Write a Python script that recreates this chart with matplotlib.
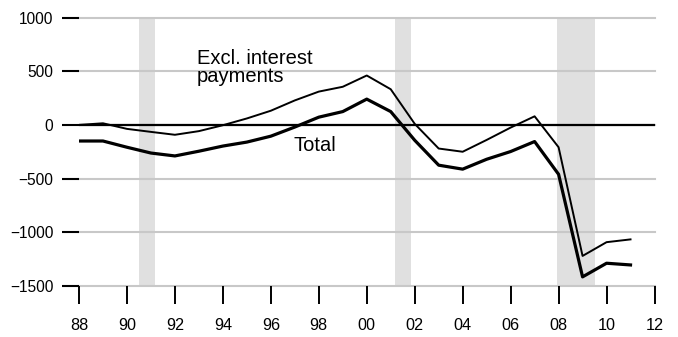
import numpy as np
import matplotlib
matplotlib.use('Agg')
import matplotlib.pyplot as plt

plt.rcParams['font.family'] = ['Liberation Sans', 'DejaVu Sans']

# data
years = np.arange(1988, 2012)
total = [-150, -150, -208, -262, -289, -245, -197, -160, -105, -20, 72, 124,
         240, 124, -143, -375, -412, -320, -248, -155, -460, -1415, -1288, -1304]
excl_interest = [0, 15, -37, -65, -92, -58, -3, 60, 132, 228, 310, 355,
                 460, 332, 10, -220, -250, -140, -25, 80, -208, -1220, -1092, -1066]

# recession bands
recessions = [(1990.5, 1991.17), (2001.17, 2001.85), (2007.92, 2009.5)]

yticks = [-1500, -1000, -500, 0, 500, 1000]
xticks = np.arange(1988, 2013, 2)
xlabels = ['%02d' % (y % 100) for y in xticks]

fig = plt.figure(figsize=(6.78, 3.37), dpi=100)
ax = fig.add_axes([79 / 678, 1 - 286 / 337, 575.5 / 678, 268.5 / 337])

for a, b in recessions:
    ax.axvspan(a, b, color='#e0e0e0', lw=0, zorder=0)

# gridlines (not clipped so the edge lines stay full width)
for v in yticks:
    ax.axhline(v, color='#c8c8c8', lw=1.5, zorder=1, clip_on=False)
ax.axhline(0, color='black', lw=1.6, zorder=2)

ax.plot(years, excl_interest, color='black', lw=1.4, zorder=3)
ax.plot(years, total, color='black', lw=2.3, zorder=3)

ax.text(1992.92, 568, 'Excl. interest', fontsize=14.5, va='baseline', ha='left')
ax.text(1992.92, 397, 'payments', fontsize=14.5, va='baseline', ha='left')
ax.text(1996.93, -242, 'Total', fontsize=14.5, va='baseline', ha='left')

ax.set_xlim(1988, 2012)
ax.set_ylim(-1500, 1000)
ax.set_xticks(xticks)
ax.set_xticklabels(xlabels)
ax.set_yticks(yticks)
ax.tick_params(axis='x', direction='out', length=13, width=1.4, pad=10, labelsize=11.7)
ax.tick_params(axis='y', direction='out', length=12, width=1.5, pad=6.5, labelsize=11.2)

for s in ax.spines.values():
    s.set_visible(False)

fig.savefig('out.png', dpi=100)
